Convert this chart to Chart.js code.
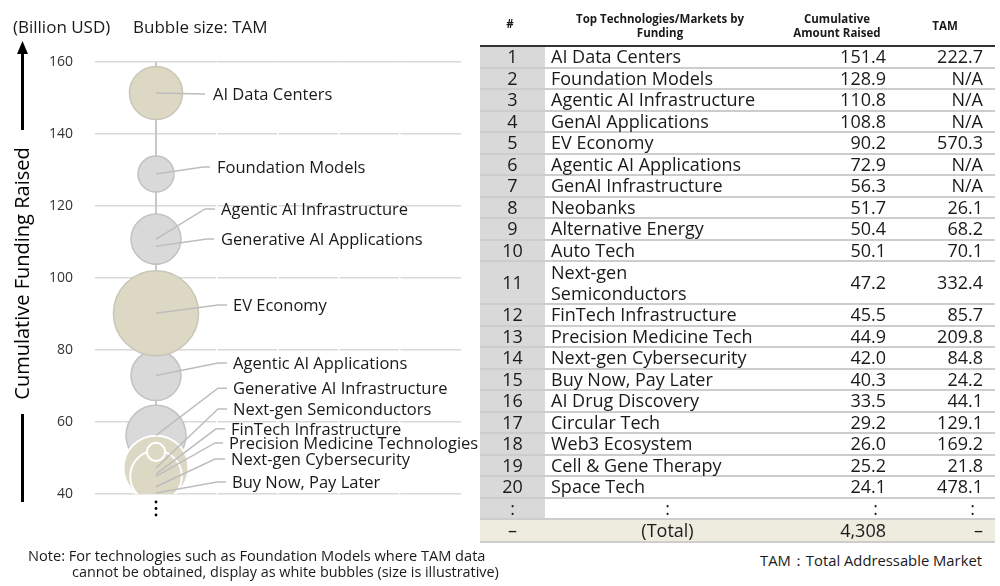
<!DOCTYPE html>
<html><head><meta charset="utf-8">
<script src="https://cdn.jsdelivr.net/npm/chart.js@4.4.1/dist/chart.umd.min.js"></script>
<style>
html,body{margin:0;padding:0;background:#fff;}
body{width:1000px;height:586px;position:relative;overflow:hidden;font-family:'Open Sans',sans-serif;color:#1a1a1a;}
#chartWrap{position:absolute;left:0;top:0;width:480px;height:586px;}
.txt{position:absolute;white-space:nowrap;line-height:1;}
.hdr{position:absolute;font-weight:700;font-size:11.5px;text-align:center;line-height:14px;color:#1a1a1a;}
.row{position:absolute;left:480px;width:515px;display:flex;box-sizing:border-box;border-bottom:2px solid #cdcdcd;font-size:18px;line-height:21px;}
.row>div{display:flex;align-items:center;box-sizing:border-box;}
.c0{width:65px;background:#d9d9d9;justify-content:center;}
.c1{width:245px;padding-left:6px;white-space:pre-line;}
.c2{width:96px;justify-content:flex-end;}
.c3{width:97px;justify-content:flex-end;}
.total{background:#eeecdf;}
.total .c0{background:transparent;}
</style></head>
<body>
<div id="chartWrap"><canvas id="c" width="480" height="586"></canvas></div>
<div class="txt" style="left:13px;top:18px;font-size:17px;">(Billion USD)</div>
<div class="txt" style="left:133px;top:18px;font-size:17px;">Bubble size: TAM</div>
<div class="txt" style="left:28px;top:548px;font-size:14.6px;">Note: For technologies such as Foundation Models where TAM data</div>
<div class="txt" style="left:72px;top:565px;font-size:14.4px;">cannot be obtained, display as white bubbles (size is illustrative)</div>
<div class="txt" style="left:740px;top:553px;font-size:14.8px;width:242px;text-align:right;">TAM：Total Addressable Market</div>

<div class="hdr" style="left:480px;width:60px;top:17px;">#</div>
<div class="hdr" style="left:560px;width:200px;top:12px;">Top Technologies/Markets by<br>Funding</div>
<div class="hdr" style="left:777px;width:120px;top:12px;">Cumulative<br>Amount Raised</div>
<div class="hdr" style="left:905px;width:80px;top:19px;">TAM</div>
<div style="position:absolute;left:480px;top:44.5px;width:515px;height:2.5px;background:#333;"></div>
<div id="tbl"></div>

<script>
// ---------------- DATA ----------------
const ranks = [1,2,3,4,5,6,7,8,9,10,11,12,13,14,15,16,17,18,19,20];
const tableNames = ['AI Data Centers','Foundation Models','Agentic AI Infrastructure','GenAI Applications','EV Economy',
  'Agentic AI Applications','GenAI Infrastructure','Neobanks','Alternative Energy','Auto Tech',
  'Next-gen\nSemiconductors','FinTech Infrastructure','Precision Medicine Tech','Next-gen Cybersecurity','Buy Now, Pay Later',
  'AI Drug Discovery','Circular Tech','Web3 Ecosystem','Cell & Gene Therapy','Space Tech'];
const chartLabels = ['AI Data Centers','Foundation Models','Agentic AI Infrastructure','Generative AI Applications','EV Economy',
  'Agentic AI Applications','Generative AI Infrastructure',null,null,null,
  'Next-gen Semiconductors','FinTech Infrastructure','Precision Medicine Technologies','Next-gen Cybersecurity','Buy Now, Pay Later',
  null,null,null,null,null];
const amountRaised = [151.4,128.9,110.8,108.8,90.2,72.9,56.3,51.7,50.4,50.1,47.2,45.5,44.9,42.0,40.3,33.5,29.2,26.0,25.2,24.1];
const tam = [222.7,null,null,null,570.3,null,null,26.1,68.2,70.1,332.4,85.7,209.8,84.8,24.2,44.1,129.1,169.2,21.8,478.1];
const totalRaised = 4308;
const yTicks = [40,60,80,100,120,140,160];

// ---------------- LAYOUT / STYLE ----------------
const Y_MIN = 40, Y_MAX = 160, BUBBLE_X = 1;
const TAM_RADIUS_K = 1.78;                       // px per sqrt(TAM)
const naRadius = {2:18, 3:25, 4:18, 6:25, 7:30}; // illustrative sizes (TAM N/A)
const drawOrder = [4,3,2,6,7,12,14,15,9,10,11,13,8,1,5];
const whiteEdged = [8,9,10,11,12,13,14,15];
const TAN = '#dcd8c3', GRAY = '#d9d9d9';
// label layout: y in axis units, x offsets in px from bubble centre
const labelLayout = [
  {rank:1,  y:151.1, elbow:49, end:49, text:57},
  {rank:2,  y:130.8, elbow:47, end:54, text:61},
  {rank:3,  y:119.2, elbow:49, end:59, text:65},
  {rank:4,  y:110.8, elbow:51, end:58, text:65},
  {rank:5,  y:92.5,  elbow:62, end:71, text:77},
  {rank:6,  y:76.4,  elbow:62, end:71, text:77},
  {rank:7,  y:69.4,  elbow:62, end:71, text:77},
  {rank:11, y:63.6,  elbow:62, end:71, text:77},
  {rank:12, y:58.1,  elbow:60, end:69, text:75},
  {rank:13, y:54.2,  elbow:59, end:67, text:73},
  {rank:14, y:49.7,  elbow:59, end:69, text:75},
  {rank:15, y:43.3,  elbow:61, end:70, text:76}
];

// ---------------- TABLE ----------------
(function buildTable(){
  const tbl = document.getElementById('tbl');
  let top = 47;
  const fmt = v => v == null ? 'N/A' : v.toFixed(1);
  const addRow = (h, cells, cls) => {
    const r = document.createElement('div');
    r.className = 'row' + (cls ? ' ' + cls : '');
    r.style.top = top + 'px'; r.style.height = h + 'px';
    cells.forEach((c, k) => {
      const d = document.createElement('div');
      d.className = 'c' + k;
      d.textContent = c.t;
      if (c.style) d.setAttribute('style', c.style);
      r.appendChild(d);
    });
    tbl.appendChild(r);
    top += h;
  };
  ranks.forEach((rk, i) => {
    const h = tableNames[i].includes('\n') ? 43 : 21.5;
    addRow(h, [{t:String(rk)},{t:tableNames[i]},{t:amountRaised[i].toFixed(1)},{t:fmt(tam[i])}]);
  });
  addRow(21, [{t:':'},{t:':',style:'justify-content:center;padding-left:0'},{t:':',style:'padding-right:8px'},{t:':',style:'padding-right:8px'}]);
  addRow(23, [{t:'–'},{t:'(Total)',style:'justify-content:center;padding-left:0'},{t:totalRaised.toLocaleString('en-US')},{t:'–'}], 'total');
})();

// ---------------- CHART ----------------
const bubblePts = [], bg = [], bc = [], bw = [];
drawOrder.forEach(rk => {
  const i = rk - 1;
  const hasTam = tam[i] != null;
  bubblePts.push({x: BUBBLE_X, y: amountRaised[i], r: hasTam ? TAM_RADIUS_K * Math.sqrt(tam[i]) : naRadius[rk]});
  bg.push(hasTam ? TAN : GRAY);
  const white = whiteEdged.includes(rk);
  bc.push(white ? '#ffffff' : (hasTam ? '#c9c6b8' : '#c2c2c2'));
  bw.push(white ? 2 : 1.5);
});

const labelPlugin = {
  id: 'bubbleLabels',
  afterDatasetsDraw(chart) {
    const {ctx, scales: {x, y}} = chart;
    ctx.save();
    ctx.strokeStyle = '#bdbdbd'; ctx.lineWidth = 1.5;
    ctx.font = '16.5px "Open Sans"'; ctx.fillStyle = '#1a1a1a';
    ctx.textBaseline = 'middle'; ctx.textAlign = 'left';
    labelLayout.forEach(L => {
      const i = L.rank - 1;
      const cx = x.getPixelForValue(BUBBLE_X), cy = y.getPixelForValue(amountRaised[i]);
      const ly = y.getPixelForValue(L.y);
      ctx.beginPath(); ctx.moveTo(cx, cy); ctx.lineTo(cx + L.elbow, ly); ctx.lineTo(cx + L.end, ly); ctx.stroke();
      ctx.fillText(chartLabels[i], cx + L.text, ly + 1);
    });
    // continuation dots
    const cx = x.getPixelForValue(BUBBLE_X), base = y.getPixelForValue(Y_MIN);
    ctx.fillStyle = '#000';
    [8, 14.5, 21].forEach(d => { ctx.beginPath(); ctx.arc(cx, base + d, 1.4, 0, Math.PI*2); ctx.fill(); });
    // axis title with arrow
    ctx.strokeStyle = '#000'; ctx.lineWidth = 3;
    ctx.beginPath(); ctx.moveTo(22.5, 130); ctx.lineTo(22.5, 52); ctx.stroke();
    ctx.beginPath(); ctx.moveTo(22.5, 41); ctx.lineTo(17, 54); ctx.lineTo(28, 54); ctx.closePath(); ctx.fill();
    ctx.beginPath(); ctx.moveTo(22.5, 414); ctx.lineTo(22.5, 502); ctx.stroke();
    ctx.save();
    ctx.translate(23, 273.5); ctx.rotate(-Math.PI/2);
    ctx.font = '20px "Open Sans"'; ctx.textAlign = 'center'; ctx.textBaseline = 'middle';
    ctx.fillText('Cumulative Funding Raised', 0, 0);
    ctx.restore();
    ctx.restore();
  }
};

new Chart(document.getElementById('c'), {
  type: 'bubble',
  data: {
    datasets: [
      {type: 'line', data: [{x: BUBBLE_X, y: Y_MAX}, {x: BUBBLE_X, y: Y_MIN}], borderColor: '#c8c8c8', borderWidth: 2,
       pointRadius: 0, order: 10},
      {type: 'bubble', data: bubblePts, backgroundColor: bg, borderColor: bc, borderWidth: bw, clip: 0, order: 1,
       hoverRadius: 0}
    ]
  },
  options: {
    responsive: false, animation: false, events: [],
    layout: {autoPadding: false, padding: {top: 62, bottom: 92, left: 0, right: 19}},
    plugins: {legend: {display: false}, tooltip: {enabled: false}},
    scales: {
      x: {type: 'linear', min: 0, max: 6, display: true,
          afterFit: s => { s.height = 0; },
          ticks: {display: false, stepSize: 1}, border: {display: false},
          grid: {drawTicks: false, lineWidth: 1.5, z: 0,
                 color: c => (c.tick && c.tick.value >= 2 && c.tick.value <= 5) ? '#ffffff' : 'rgba(0,0,0,0)'}},
      y: {type: 'linear', min: Y_MIN, max: Y_MAX,
          afterFit: s => { s.width = 95; },
          border: {display: false},
          grid: {color: '#d9d9d9', lineWidth: 1.5, drawTicks: false, z: -1},
          ticks: {padding: 22, color: '#333', stepSize: yTicks[1] - yTicks[0], font: {family: 'Open Sans', size: 14}}}
    }
  },
  plugins: [labelPlugin]
});
</script>
</body></html>
